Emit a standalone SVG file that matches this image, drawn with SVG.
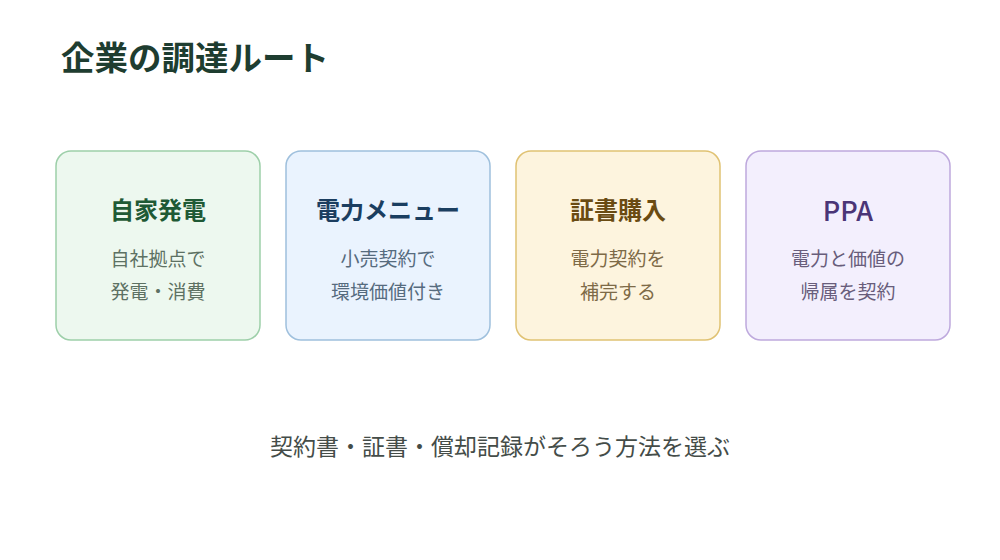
<svg xmlns="http://www.w3.org/2000/svg" width="1000" height="560" viewBox="0 0 1000 560">
<style>
text{font-family:"Noto Sans CJK JP","Noto Sans",sans-serif;text-anchor:middle}
.title{font-size:33.5px;font-weight:700;fill:#1e3d30;text-anchor:start}
.box{stroke-width:1.5}
.h{font-size:24px;font-weight:700}
.s{font-size:19px}
.foot{font-size:23px;fill:#444c48}
</style>
<rect width="1000" height="560" fill="#ffffff"/>
<text class="title" x="61" y="70">企業の調達ルート</text>
<g id="connectors"></g>
<g id="node-jika">
<rect class="box" x="56" y="151" width="204" height="189" rx="15" fill="#edf8ef" stroke="#9dcfa9"/>
<text class="h" x="158" y="219" fill="#1f5a35">自家発電</text>
<text class="s" x="158" y="266" fill="#5d7163">自社拠点で</text>
<text class="s" x="158" y="299" fill="#5d7163">発電・消費</text>
</g>
<g id="node-menu">
<rect class="box" x="286" y="151" width="204" height="189" rx="15" fill="#eaf3fe" stroke="#9fc0dd"/>
<text class="h" x="388" y="219" fill="#1b3e60">電力メニュー</text>
<text class="s" x="388" y="266" fill="#566b7e">小売契約で</text>
<text class="s" x="388" y="299" fill="#566b7e">環境価値付き</text>
</g>
<g id="node-cert">
<rect class="box" x="516" y="151" width="204" height="189" rx="15" fill="#fdf4de" stroke="#e0c273"/>
<text class="h" x="618" y="219" fill="#6a4b12">証書購入</text>
<text class="s" x="618" y="266" fill="#7d6a47">電力契約を</text>
<text class="s" x="618" y="299" fill="#7d6a47">補完する</text>
</g>
<g id="node-ppa">
<rect class="box" x="746" y="151" width="204" height="189" rx="15" fill="#f3effd" stroke="#bea9dd"/>
<text x="848" y="221" fill="#4a3577" font-size="27" font-weight="500">PPA</text>
<text class="s" x="848" y="266" fill="#685d7b">電力と価値の</text>
<text class="s" x="848" y="299" fill="#685d7b">帰属を契約</text>
</g>
<text class="foot" x="500" y="455">契約書・証書・償却記録がそろう方法を選ぶ</text>
</svg>
